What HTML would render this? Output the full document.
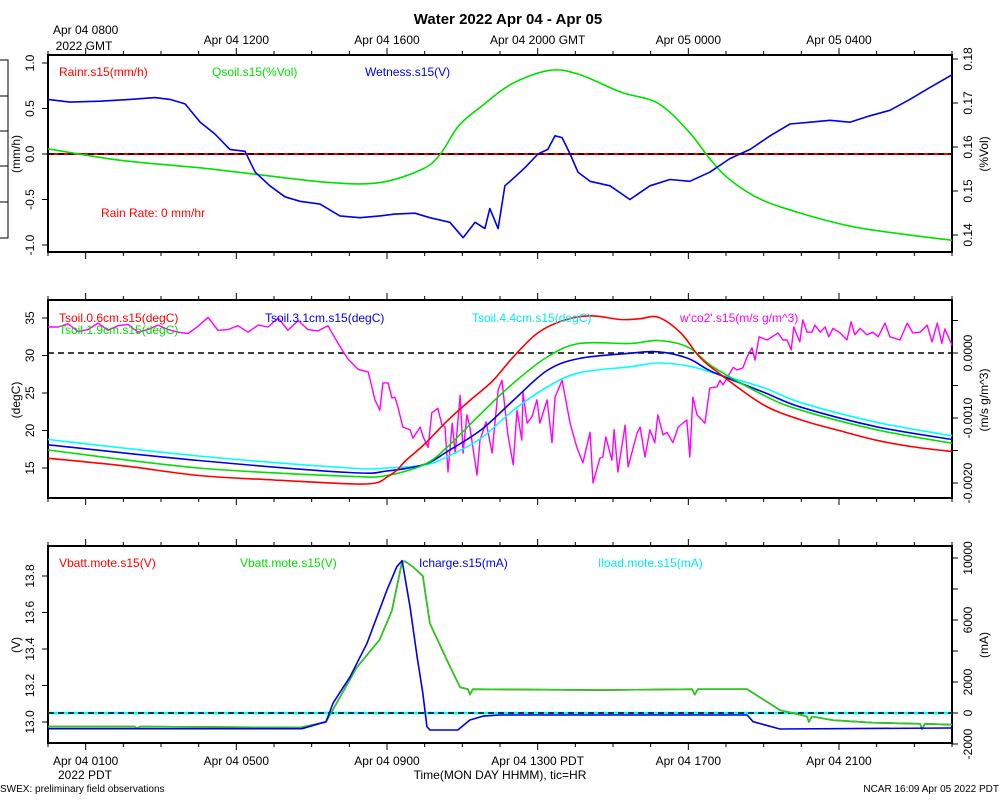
<!DOCTYPE html>
<html><head><meta charset="utf-8"><style>
html,body{margin:0;padding:0;background:#fff;}
svg{display:block;font-family:"Liberation Sans",sans-serif;}
</style></head><body>
<svg id="chart" width="1000" height="800" viewBox="0 0 1000 800">
<rect x="0" y="0" width="1000" height="800" fill="#fff"/>
<text x="508" y="24" text-anchor="middle" font-size="15" font-weight="bold">Water 2022 Apr 04 - Apr 05</text>
<text x="0" y="792" font-size="10">SWEX: preliminary field observations</text>
<text x="999" y="792" font-size="10" text-anchor="end">NCAR 16:09 Apr 05 2022 PDT</text>
<path d="M0 60 H8 V238 H0 M0 96 H8 M0 131 H8 M0 166 H8 M0 202 H8" fill="none" stroke="#000" stroke-width="1"/>
<g id="g"></g>
</svg>
<script>
// ---------- data ----------
const topGmtLabels = ["Apr 04 0800","Apr 04 1200","Apr 04 1600","Apr 04 2000 GMT","Apr 05 0000","Apr 05 0400"];
const bottomPdtLabels = ["Apr 04 0100","Apr 04 0500","Apr 04 0900","Apr 04 1300 PDT","Apr 04 1700","Apr 04 2100"];
const labelHours = [1,5,9,13,17,21];

const wetT = [0,0.58,1.38,2.18,2.84,3.24,3.64,4.04,4.43,4.83,5.23,5.5,5.89,6.29,6.69,7.22,7.75,8.28,8.81,9.21,9.74,10.14,10.67,11.02,11.34,11.6,11.73,11.95,12.13,12.4,12.66,13.01,13.27,13.46,13.65,13.86,14.07,14.39,14.92,15.45,15.98,16.51,17.04,17.57,18.1,18.64,19.17,19.7,20.23,20.76,21.29,21.82,22.35,22.88,23.41,24];
const wetV = [0.6,0.57,0.58,0.6,0.62,0.6,0.55,0.35,0.22,0.05,0.03,-0.2,-0.35,-0.47,-0.52,-0.55,-0.68,-0.7,-0.68,-0.66,-0.65,-0.7,-0.75,-0.92,-0.75,-0.82,-0.6,-0.82,-0.35,-0.25,-0.15,0.0,0.05,0.2,0.18,0.0,-0.2,-0.3,-0.35,-0.5,-0.35,-0.28,-0.3,-0.2,-0.05,0.05,0.2,0.33,0.35,0.37,0.35,0.42,0.48,0.6,0.73,0.87];
const qsoilT = [0,1.9,4.0,5.6,7.5,8.8,9.9,10.4,10.9,11.5,12.3,13.3,14.1,15.2,16.2,17,17.6,18.1,18.9,20,21.3,22.6,24];
const qsoilV = [0.1596,0.1570,0.1553,0.1537,0.1519,0.1519,0.1548,0.1582,0.1648,0.1692,0.1743,0.1774,0.1765,0.1725,0.1699,0.1636,0.1570,0.1526,0.1482,0.1449,0.1420,0.1403,0.1388];

const tsRedT = [0,2,4,6,8,8.7,9,9.26,9.5,10,10.6,11.2,11.8,12.35,13,13.7,14.4,15.2,15.7,16.2,16.8,17.3,17.85,19,20,21,22,23,24];
const ts06 = [16.3,15.3,14.0,13.4,12.9,13.0,13.8,14.7,16,18.2,21.3,24,26.6,29.8,33,34.7,35.3,34.8,34.9,35.1,33,29.8,27.5,23.4,21.4,20,18.7,17.8,17.2];
const ts2T = [0,4,8,9,10,10.6,11.5,12.35,13.25,14.1,15.45,16.2,17.0,17.65,19,20,22,24];
const ts19 = [17.4,15.0,13.9,14.0,15.5,17.8,22.3,26.3,29.8,31.6,31.6,32,31.1,28.5,24.7,22.7,20.1,18.3];
const ts31 = [18.1,16.0,14.4,14.6,15.5,17.2,20.1,24,28,29.6,30.3,30.5,29.6,27.8,25.1,23.1,20.5,18.8];
const ts44 = [18.8,16.6,15.0,15.0,15.4,16.5,19,22.7,25.8,27.7,28.5,29,28.6,27.7,25.7,23.7,21.1,19.3];
// w'co2' times (hours PDT) and values in units of 1e-4 m/s g/m^3
const co2T = [0,.27,.53,.80,1.06,1.33,1.59,1.86,2.12,2.39,2.65,2.92,3.19,3.45,3.72,3.98,4.25,4.51,4.78,5.04,5.31,5.58,5.84,6.11,6.37,6.64,6.90,7.17,7.43,7.70,7.96,8.23,8.50,8.68,
8.81,8.89,9.03,9.13,9.21,9.29,9.42,9.61,9.69,9.88,9.96,10.09,10.19,10.35,10.46,10.54,10.62,10.73,10.81,10.94,11.02,11.12,11.20,11.39,11.47,11.63,11.79,11.95,12.05,12.21,12.35,12.45,12.58,12.61,12.72,12.85,12.98,13.06,13.25,13.38,13.46,13.65,13.86,14.04,14.20,14.39,14.47,14.65,14.73,14.81,14.97,15.03,15.13,15.32,15.40,15.64,15.72,15.85,15.98,16.11,16.19,16.33,16.43,16.59,16.73,16.96,17.04,17.12,17.23,17.36,17.44,17.57,17.76,17.84,17.92,
18.19,18.29,18.45,18.56,18.69,18.77,18.88,19.09,19.38,19.51,19.62,19.73,19.80,19.96,20.04,20.15,20.28,20.36,20.50,20.63,20.73,20.84,21.03,21.21,21.32,21.42,21.56,21.74,21.90,22.04,22.22,22.35,22.62,22.81,22.96,23.15,23.34,23.47,23.61,23.73,23.81,24];
const co2E4 = [4.0,4.0,4.5,3.3,3.6,4.6,3.5,4.2,4.4,3.2,3.6,4.3,3.6,3.2,3.0,4.1,5.5,3.5,3.6,4.2,3.2,4.3,4.0,5.4,3.5,5.0,3.6,3.4,4.2,1.5,-0.9,-2.5,-2.9,-7.2,
-8.8,-4.6,-4.6,-6.9,-6.8,-8.3,-11.4,-11.8,-13.1,-11.4,-12.9,-14.5,-9.2,-8.5,-11.1,-11.4,-18.3,-10.8,-15.4,-6.5,-15.4,-9.5,-11.4,-18.8,-13.4,-10.6,-15.4,-5.7,-4.2,-12.6,-17.2,-8.8,-13.4,-6.0,-10.8,-9.8,-7.2,-10.8,-7.2,-13.8,-6.8,-4.2,-10.8,-14.5,-16.9,-12.2,-20.0,-16.2,-16.0,-12.9,-16.5,-11.8,-18.3,-11.1,-17.5,-12.3,-11.4,-16.0,-11.8,-13.8,-9.5,-12.6,-12.2,-13.8,-11.4,-10.3,-16.0,-6.8,-9.5,-10.3,-10.8,-5.4,-5.2,-4.2,-4.9,
-2.2,-2.6,-2.3,-0.6,0.8,-1.1,2.5,2.0,3.1,2.0,2.0,0.5,4.0,1.7,5.1,3.2,3.2,4.3,3.2,4.0,2.5,3.8,3.1,2.0,4.8,2.8,3.8,2.8,3.2,2.5,4.6,2.5,2.0,4.6,3.1,3.2,4.3,1.7,4.6,1.5,3.7,1.2];

const vbT = [0,2.3,2.35,2.45,6.7,7.38,8.2,8.8,9.13,9.4,9.48,9.69,9.95,10.14,10.59,10.94,11.15,11.2,11.28,14.65,17.1,17.17,17.25,18.56,19.43,19.96,20.15,20.2,20.28,20.84,21.9,23.15,23.2,23.28,24];
const vbV = [12.975,12.975,12.965,12.975,12.97,13.0,13.3,13.45,13.61,13.88,13.88,13.85,13.8,13.54,13.34,13.19,13.18,13.15,13.18,13.175,13.18,13.15,13.18,13.18,13.065,13.04,13.03,13.0,13.03,13.01,12.996,12.99,12.96,12.99,12.985];
const icT = [0,6.74,7.38,7.57,8.02,8.47,9.0,9.26,9.4,9.61,9.8,9.95,10.06,10.14,10.88,11.2,11.55,12.0,18.56,18.72,19.43,24];
const icV = [-1010,-1010,-560,640,2340,4500,7940,9440,9830,6860,3630,1290,-880,-1100,-1100,-450,-200,-130,-130,-560,-1030,-970];
const ilT = [0,24];
const ilV = [0,0];

// ---------- scales ----------
const X0=48, X1=952;
const xS = h => X0 + h*(X1-X0)/24;
const yTopL = v => 154 - v*91;
const yTopR = v => 59 + (0.18-v)*4400;
const yMidL = v => 318 + (35-v)*7.5;
const yMidR = v => 353 - v*65000;
const yBotL = v => 722 - (v-13)*182.5;
const yBotR = v => 713 - v*0.0155;

const NS="http://www.w3.org/2000/svg";
const g=document.getElementById('g');
function mk(tag, attrs, parent){
  const e=document.createElementNS(NS,tag);
  for(const k in attrs) e.setAttribute(k,attrs[k]);
  (parent||g).appendChild(e); return e;
}
function line(ts, vs, ys, color, name, w, smooth){
  const P = ts.map((t,i)=>[xS(t), ys(vs[i])]);
  let d = 'M'+P[0][0].toFixed(1)+' '+P[0][1].toFixed(1);
  for(let i=1;i<P.length;i++){
    if(smooth){
      const p0=P[Math.max(0,i-2)], p1=P[i-1], p2=P[i], p3=P[Math.min(P.length-1,i+1)];
      const c1=[p1[0]+(p2[0]-p0[0])/6, p1[1]+(p2[1]-p0[1])/6];
      const c2=[p2[0]-(p3[0]-p1[0])/6, p2[1]-(p3[1]-p1[1])/6];
      d+=' C'+c1[0].toFixed(1)+' '+c1[1].toFixed(1)+' '+c2[0].toFixed(1)+' '+c2[1].toFixed(1)+' '+p2[0].toFixed(1)+' '+p2[1].toFixed(1);
    } else d+=' L'+P[i][0].toFixed(1)+' '+P[i][1].toFixed(1);
  }
  const p=mk('path',{d:d,fill:'none',stroke:color,'stroke-width':w||1.6,'stroke-linejoin':'round'});
  
  
  return p;
}
function txt(x,y,s,opt){
  const t=mk('text',Object.assign({x:x,y:y,'font-size':12},opt||{}));
  t.textContent=s; return t;
}
function rtxt(x,y,s,name){
  const t=mk('text',{x:0,y:0,'font-size':12,'text-anchor':'middle',transform:`translate(${x},${y}) rotate(-90)`});
  t.textContent=s;
  
  
  return t;
}

const panels=[{t:55,b:252,n:'top'},{t:300,b:498,n:'middle'},{t:546,b:743,n:'bottom'}];
panels.forEach(p=>{
  const r=mk('rect',{x:X0,y:p.t,width:X1-X0,height:p.b-p.t,fill:'none',stroke:'#000','stroke-width':2});
  
  
  for(let h=0;h<=24;h++){
    const x=xS(h), maj=labelHours.includes(h)?7:4;
    mk('line',{x1:x,x2:x,y1:p.t,y2:p.t-maj,stroke:'#000','stroke-width':1});
    mk('line',{x1:x,x2:x,y1:p.b,y2:p.b+maj,stroke:'#000','stroke-width':1});
  }
});
labelHours.forEach((h,i)=>{
  const tl=txt(xS(h), i===0?34:44, topGmtLabels[i], {'text-anchor':'middle'});
  
  
  const bl=txt(xS(h), 765, bottomPdtLabels[i], {'text-anchor':'middle'});
  
  
});
txt(84,50,'2022 GMT',{'text-anchor':'middle'});
txt(85,779,'2022 PDT',{'text-anchor':'middle'});
const xt=txt(500,779,'Time(MON DAY HHMM), tic=HR',{'text-anchor':'middle'});



function yAxis(vals, labels, ys, side, name){
  vals.forEach((v,i)=>{
    const y=ys(v);
    if(side==='L'){ mk('line',{x1:X0,x2:X0-6,y1:y,y2:y,stroke:'#000'}); if(labels[i]) rtxt(34,y,labels[i],name+'-tick'); }
    else { mk('line',{x1:X1,x2:X1+6,y1:y,y2:y,stroke:'#000'}); if(labels[i]) rtxt(972,y,labels[i],name+'-tick'); }
  });
}
yAxis([1,0.5,0,-0.5,-1],['1.0','0.5','0.0','-0.5','-1.0'],yTopL,'L','top-left');
yAxis([0.14,0.15,0.16,0.17,0.18],['0.14','0.15','0.16','0.17','0.18'],yTopR,'R','top-right');
yAxis([15,20,25,30,35],['15','20','25','30','35'],yMidL,'L','mid-left');
yAxis([0.0005,0,-0.0005,-0.001,-0.0015,-0.002],['','0.0000','','-0.0010','','-0.0020'],yMidR,'R','mid-right');
yAxis([13.0,13.2,13.4,13.6,13.8],['13.0','13.2','13.4','13.6','13.8'],yBotL,'L','bot-left');
yAxis([-2000,0,2000,4000,6000,8000,10000],['-2000','0','2000','','6000','','10000'],yBotR,'R','bot-right');
rtxt(20,154,'(mm/h)','top-left-axis-title');
rtxt(988,154,'(%Vol)','top-right-axis-title');
rtxt(20,400,'(degC)','mid-left-axis-title');
rtxt(988,400,'(m/s g/m^3)','mid-right-axis-title');
rtxt(20,645,'(V)','bot-left-axis-title');
rtxt(988,645,'(mA)','bot-right-axis-title');

// ---- top panel ----
mk('line',{x1:X0,x2:X1,y1:yTopL(0),y2:yTopL(0),stroke:'#f00','stroke-width':2});
mk('line',{x1:X0,x2:X1,y1:yTopL(0),y2:yTopL(0),stroke:'#000','stroke-width':1.5,'stroke-dasharray':'6,4'});
line(qsoilT,qsoilV,yTopR,'#00e000','qsoil-line',1.6,true);
line(wetT,wetV,yTopL,'#0000ee','wetness-line');
[['Rainr.s15(mm/h)',59,'#f00'],['Qsoil.s15(%Vol)',212,'#00e000'],['Wetness.s15(V)',365,'#0000ee']].forEach(a=>{
  const t=txt(a[1],76,a[0],{fill:a[2]});  
});
txt(101,217,'Rain Rate: 0 mm/hr',{fill:'#f00'});

// ---- middle panel ----
mk('line',{x1:X0,x2:X1,y1:yMidR(0),y2:yMidR(0),stroke:'#000','stroke-width':1.5,'stroke-dasharray':'6,4'});
line(co2T,co2E4.map(v=>v*1e-4),yMidR,'#ff00ff','co2-flux-line',1.4);
line(ts2T,ts44,yMidL,'#00ffff','tsoil-4.4cm-line',1.6,true);
line(ts2T,ts31,yMidL,'#0000ee','tsoil-3.1cm-line',1.6,true);
line(ts2T,ts19,yMidL,'#00e000','tsoil-1.9cm-line',1.6,true);
line(tsRedT,ts06,yMidL,'#f00','tsoil-0.6cm-line',1.6,true);
[['Tsoil.0.6cm.s15(degC)',59,322,'#f00'],['Tsoil.1.9cm.s15(degC)',59,334,'#00e000'],['Tsoil.3.1cm.s15(degC)',265,322,'#0000ee'],['Tsoil.4.4cm.s15(degC)',472,322,'#00e8e8'],["w'co2'.s15(m/s g/m^3)",680,322,'#ff00ff']].forEach(a=>{
  const t=txt(a[1],a[2],a[0],{fill:a[3]});  
});

// ---- bottom panel ----
line(ilT,ilV,yBotR,'#00ffff','iload-line',2.5);
mk('line',{x1:X0,x2:X1,y1:yBotR(0),y2:yBotR(0),stroke:'#000','stroke-width':1.5,'stroke-dasharray':'6,4'});
line(vbT,vbV,yBotL,'#c00000','vbatt-red-line');
line(vbT,vbV,yBotL,'#20d020','vbatt-green-line');
line(icT,icV,yBotR,'#0000ee','icharge-line');
[['Vbatt.mote.s15(V)',59,'#f00'],['Vbatt.mote.s15(V)',240,'#00e000'],['Icharge.s15(mA)',419,'#0000ee'],['Iload.mote.s15(mA)',598,'#00e8e8']].forEach(a=>{
  const t=txt(a[1],567,a[0],{fill:a[2]});  
});
</script>
</body></html>
